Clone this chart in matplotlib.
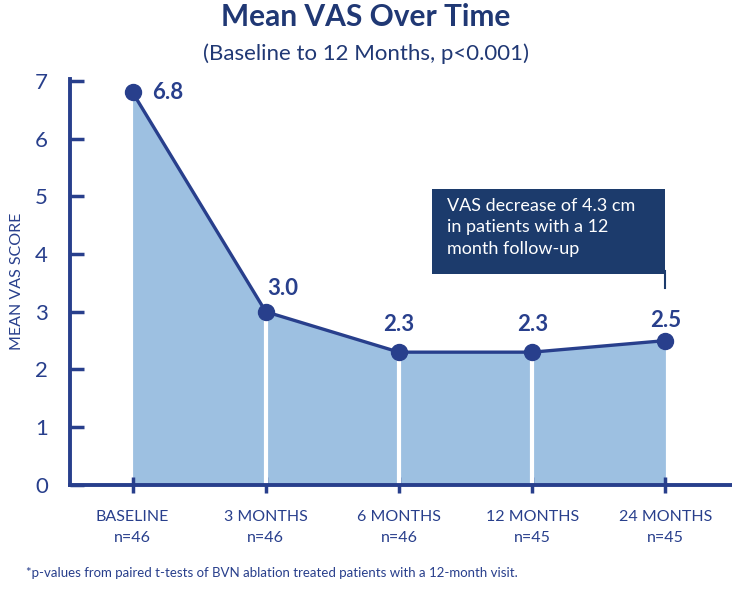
''' Mean VAS over time chart
'''
import matplotlib
import matplotlib.pyplot as plt
from matplotlib.patches import Rectangle

matplotlib.use('Agg')

NAVY = '#283f8c'
TITLE_NAVY = '#203874'
BOX_NAVY = '#1c3b6c'
FILL = '#9dc0e1'

categories = ['BASELINE', '3 MONTHS', '6 MONTHS', '12 MONTHS', '24 MONTHS']
n_labels = ['n=46', 'n=46', 'n=46', 'n=45', 'n=45']
vas_mean = [6.8, 3.0, 2.3, 2.3, 2.5]
value_labels = ['6.8', '3.0', '2.3', '2.3', '2.5']
y_ticks = [0, 1, 2, 3, 4, 5, 6, 7]

plt.rcParams['font.family'] = ['Lato', 'DejaVu Sans']

fig = plt.figure(figsize=(7.32, 5.95), dpi=100)
ax = fig.add_axes([0.0956, 0.185, 0.9044, 0.683])

xs = list(range(len(categories)))

# filled area under the line, with white separators at each visit
ax.fill_between(xs, 0, vas_mean, color=FILL, lw=0, zorder=1)
for x, y in zip(xs[1:-1], vas_mean[1:-1]):
    ax.plot([x, x], [0, y], color='white', lw=3, zorder=2, solid_capstyle='butt')

ax.plot(xs, vas_mean, color=NAVY, lw=2.4, marker='o', markersize=11.5, zorder=3)

# value labels
offsets = [(0.15, 0.0, 'left'), (0.13, 0.4, 'center'), (0.0, 0.48, 'center'),
           (0.0, 0.48, 'center'), (0.0, 0.35, 'center')]
for x, y, lab, (dx, dy, ha) in zip(xs, vas_mean, value_labels, offsets):
    ax.text(x + dx, y + dy, lab, ha=ha, va='center', fontsize=16,
            fontweight='bold', color=NAVY)

# annotation box
ax.add_patch(Rectangle((2.25, 3.66), 1.75, 1.47, color=BOX_NAVY, lw=0, zorder=4))
ax.plot([4.0, 4.0], [3.42, 3.7], color=BOX_NAVY, lw=1.5, zorder=4)
ax.text(2.36, 4.97, 'VAS decrease of 4.3 cm\nin patients with a 12\nmonth follow-up',
        ha='left', va='top', fontsize=13, color='white', linespacing=1.42, zorder=5)

ax.set_xlim(-0.47, 4.5)
ax.set_ylim(0, 7.04)
ax.set_yticks(y_ticks)
ax.set_xticks(xs)
ax.set_xticklabels([f'{c}\n{n}' for c, n in zip(categories, n_labels)],
                   fontsize=11.5, color=NAVY, linespacing=1.6)
ax.tick_params(axis='y', direction='in', length=10, width=2.5, color=NAVY,
               labelsize=16, labelcolor=NAVY, pad=16)
ax.tick_params(axis='x', direction='inout', length=12, width=2.5, color=NAVY, pad=12)

for side in ['top', 'right']:
    ax.spines[side].set_visible(False)
for side in ['left', 'bottom']:
    ax.spines[side].set_color(NAVY)
    ax.spines[side].set_linewidth(2.8)

ax.set_ylabel('MEAN VAS SCORE', fontsize=11.5, color=NAVY, labelpad=8)

fig.text(0.5, 0.972, 'Mean VAS Over Time', ha='center', va='center',
         fontsize=21.5, fontweight='bold', color=TITLE_NAVY)
fig.text(0.5, 0.91, '(Baseline to 12 Months, p<0.001)', ha='center', va='center',
         fontsize=16, color=TITLE_NAVY)
fig.text(0.035, 0.037, '*p-values from paired t-tests of BVN ablation treated patients with a 12-month visit.',
         ha='left', va='center', fontsize=9.5, color=NAVY)

fig.savefig('out.png', dpi=100)
plt.close()
